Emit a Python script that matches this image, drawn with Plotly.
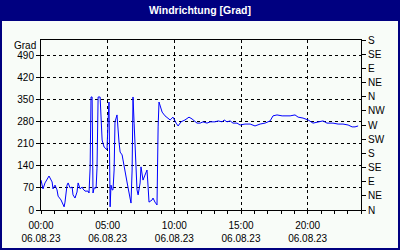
import plotly.graph_objects as go

DATE = "2023-08-06"
times = ["00:00","00:09","00:18","00:36","00:50","00:54","01:03","01:12","01:17","01:30",
         "01:44","01:48","01:57","02:02","02:11","02:20","02:24","02:33","02:42","02:47",
         "02:56","03:05","03:09","03:18","03:32","03:36","03:41","03:45","03:50","03:54",
         "03:59","04:08","04:12","04:17","04:26","04:30","04:35","04:44","04:53","04:57",
         "05:02","05:06","05:11","05:15","05:20","05:24","05:29","05:33","05:42","05:47",
         "05:51","05:56","06:05","06:09","06:18","06:27","06:32","06:41","06:45","06:50",
         "06:54","06:59","07:08","07:12","07:17","07:26","07:30","07:39","07:48","07:57",
         "08:02","08:06","08:20","08:24","08:33","08:42","08:47","08:51","09:05","09:18",
         "09:41","09:54","10:08","10:17","10:30","10:48","11:06","11:20","11:42","11:56",
         "12:09","12:27","12:41","13:03","13:17","13:35","13:44","13:57","14:11","14:24",
         "14:42","14:56","15:18","15:41","16:03","16:26","16:48","17:11","17:24","17:42",
         "18:05","18:41","19:03","19:17","19:39","20:02","20:24","20:47","21:09","21:27",
         "21:54","22:17","22:39","23:02","23:20","23:33","23:47"]
values = [95,67,86,108,89,67,79,64,44,32,
          10,25,79,86,70,73,48,38,57,86,
          67,73,67,60,60,54,133,359,359,54,
          70,70,133,359,359,280,222,200,191,191,
          286,343,10,79,64,64,127,280,302,245,
          216,184,175,159,118,89,70,41,22,127,
          359,276,137,64,48,86,137,95,111,127,
          73,25,32,38,25,16,264,343,311,299,
          286,295,276,267,280,286,295,289,276,276,
          280,276,280,280,283,280,286,280,283,276,
          276,270,273,273,267,273,276,283,299,302,
          299,299,302,295,292,286,276,280,283,276,
          276,273,273,270,264,264,267]

x_tick_hours = [0, 5, 10, 15, 20]
x_tick_labels = ["00:00<br>06.08.23", "05:00<br>06.08.23", "10:00<br>06.08.23",
                 "15:00<br>06.08.23", "20:00<br>06.08.23"]
left_ticks = [0, 70, 140, 210, 280, 350, 420, 490]
right_ticks = [0, 45, 90, 135, 180, 225, 270, 315, 360, 405, 450, 495, 540]
right_labels = ["N", "NE", "E", "SE", "S", "SW", "W", "NW", "N", "NE", "E", "SE", "S"]
title_text = "Windrichtung [Grad]"
unit_text = "Grad"

xs = [f"{DATE} {t}" for t in times]
NAVY = "#000080"
BG = "#f8fcf8"
FONT = "Liberation Sans"

fig = go.Figure()
fig.add_trace(go.Scatter(x=xs, y=values, mode="lines",
                         line=dict(color="#0000ff", width=1), showlegend=False,
                         hoverinfo="skip"))
fig.add_trace(go.Scatter(x=[xs[0]], y=[0], yaxis="y2", mode="markers",
                         marker=dict(opacity=0), showlegend=False, hoverinfo="skip"))

tickvals = [f"{DATE} {h:02d}:00" for h in x_tick_hours]

fig.update_layout(
    width=400, height=250,
    margin=dict(l=41, r=39, t=40, b=40, autoexpand=False),
    paper_bgcolor=NAVY, plot_bgcolor="rgba(0,0,0,0)",
    font=dict(family=FONT, size=10, color="black"),
    xaxis=dict(type="date", range=[f"{DATE} 00:00", "2023-08-07 00:00"],
               tickvals=tickvals, ticktext=x_tick_labels, tickangle=0,
               showline=True, linecolor="black", linewidth=1, mirror=True,
               ticks="outside", ticklen=3, tickcolor="black", ticklabelstandoff=3,
               automargin=False,
               showgrid=True, gridcolor="black", griddash="3px,3px", gridwidth=1,
               minor=dict(dtick=3600000, ticks="outside", ticklen=3, tickcolor="black",
                          showgrid=False),
               zeroline=False, tickfont=dict(size=10)),
    yaxis=dict(range=[0, 540], tickvals=left_ticks, ticks="outside", ticklen=4,
               tickcolor="black", showline=True, linecolor="black", linewidth=1,
               mirror=True, showgrid=True, gridcolor="black", griddash="3px,3px",
               gridwidth=1, zeroline=False, tickfont=dict(size=10), automargin=False),
    yaxis2=dict(range=[0, 540], overlaying="y", side="right", tickvals=right_ticks,
                ticktext=right_labels, ticks="outside", ticklen=4, tickcolor="black",
                showline=False, showgrid=False, zeroline=False,
                tickfont=dict(size=10), automargin=False),
    shapes=[dict(type="rect", xref="paper", yref="paper", layer="below",
                 x0=(2 - 41) / 320, x1=(398 - 41) / 320,
                 y0=(210 - 248) / 170, y1=(210 - 21) / 170,
                 fillcolor=BG, line=dict(width=0))],
    annotations=[
        dict(text=f"<b>{title_text}</b>", xref="paper", yref="paper",
             x=(200 - 41) / 320, y=(210 - 10) / 170, xanchor="center", yanchor="middle",
             showarrow=False, font=dict(family=FONT, size=10.5, color="white")),
        dict(text=unit_text, xref="paper", yref="paper",
             x=(38 - 41) / 320, y=(210 - 45) / 170, xanchor="right", yanchor="middle",
             showarrow=False, font=dict(family=FONT, size=10, color="black")),
    ],
)

fig.write_html("out.html")
